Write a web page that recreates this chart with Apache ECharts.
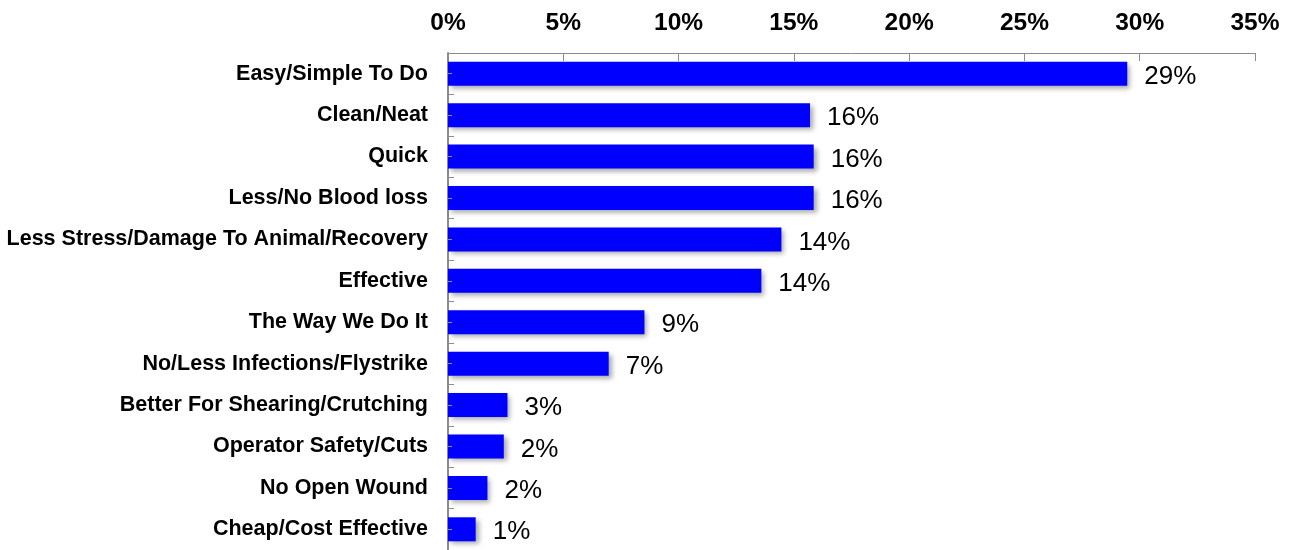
<!DOCTYPE html>
<html>
<head>
<meta charset="utf-8">
<script src="https://cdn.jsdelivr.net/npm/echarts@6/dist/echarts.min.js"></script>
<style>
  html, body { margin: 0; padding: 0; background: #ffffff; }
  #chart { width: 1299px; height: 550px; }
</style>
</head>
<body>
<div id="chart"></div>
<script>
// Reasons given for the preferred method (share of respondents, %)
const categories = [
  'Easy/Simple To Do',
  'Clean/Neat',
  'Quick',
  'Less/No Blood loss',
  'Less Stress/Damage To Animal/Recovery',
  'Effective',
  'The Way We Do It',
  'No/Less Infections/Flystrike',
  'Better For Shearing/Crutching',
  'Operator Safety/Cuts',
  'No Open Wound',
  'Cheap/Cost Effective'
];
const shares = [29.46, 15.70, 15.86, 15.86, 14.46, 13.59, 8.52, 6.97, 2.58, 2.42, 1.71, 1.20];
const axisMin = 0;
const axisMax = 35;
const axisStep = 5;

const chart = echarts.init(document.getElementById('chart'));
const FONT = '"Liberation Sans", Arial, sans-serif';
const AXIS_GREY = '#8c8c8c';

chart.setOption({
  animation: false,
  grid: { left: 448, top: 53, width: 807, height: 500, containLabel: false },
  xAxis: {
    type: 'value',
    position: 'top',
    min: axisMin,
    max: axisMax,
    interval: axisStep,
    axisLine: { show: true, lineStyle: { color: AXIS_GREY, width: 1 } },
    axisTick: { show: true, inside: true, length: 8, lineStyle: { color: AXIS_GREY, width: 1 } },
    splitLine: { show: false },
    axisLabel: {
      formatter: v => v + '%',
      color: '#000',
      fontFamily: FONT,
      fontWeight: 'bold',
      fontSize: 24.5,
      margin: 17
    }
  },
  yAxis: [
    {
      type: 'category',
      data: categories,
      inverse: true,
      axisLine: { show: true, lineStyle: { color: AXIS_GREY, width: 2 } },
      axisTick: { show: true, inside: true, length: 6, lineStyle: { color: AXIS_GREY, width: 1 } },
      axisLabel: {
        color: '#000',
        fontFamily: FONT,
        fontWeight: 'bold',
        fontSize: 21.5,
        margin: 20,
        padding: [3, 0, 0, 0]
      },
      splitLine: { show: false }
    },
    {
      // center tick marks for each category
      type: 'category',
      data: categories,
      inverse: true,
      position: 'left',
      offset: 0,
      z: 5,
      axisLine: { show: false },
      axisTick: { show: true, inside: true, alignWithLabel: true, length: 4, lineStyle: { color: AXIS_GREY, width: 1 } },
      axisLabel: { show: false },
      splitLine: { show: false }
    }
  ],
  series: [
    {
      type: 'bar',
      yAxisIndex: 0,
      data: shares,
      barWidth: 24,
      itemStyle: {
        color: '#0000ff',
        shadowColor: 'rgba(0,0,0,0.35)',
        shadowBlur: 5,
        shadowOffsetX: 3,
        shadowOffsetY: 3
      },
      label: {
        show: true,
        position: 'right',
        distance: 17,
        offset: [0, 3],
        formatter: p => Math.round(p.value) + '%',
        color: '#000',
        fontFamily: FONT,
        fontSize: 26
      }
    }
  ]
});
</script>
</body>
</html>
